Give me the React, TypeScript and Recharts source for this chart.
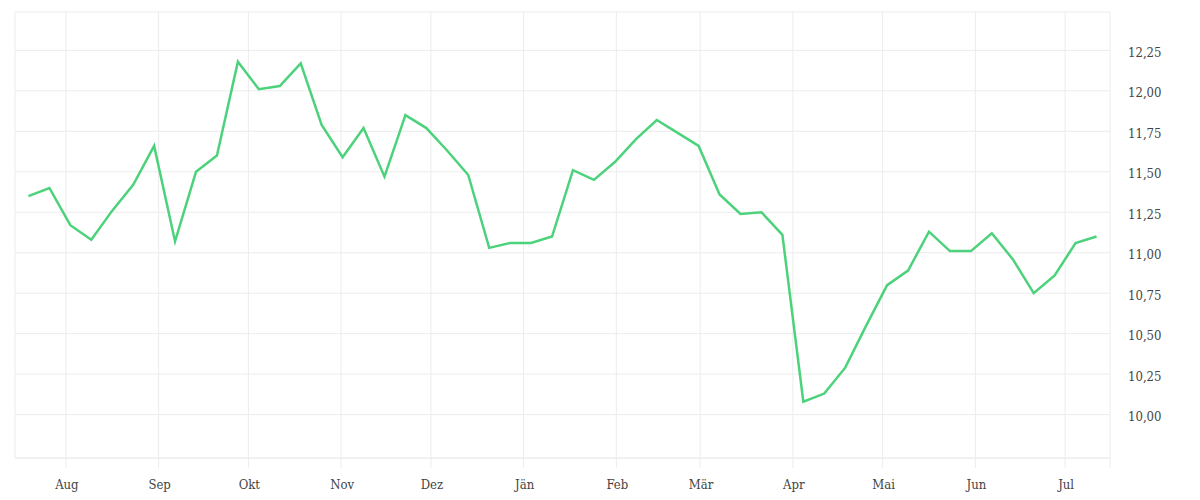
import React from "react";
import { LineChart, Line, XAxis, YAxis, CartesianGrid } from "recharts";

// days relative to 1 August
const weekDays = [
  -12.5, -5.5, 1.5, 8.5, 15.5, 22.5, 29.5, 36.5, 43.5, 50.5, 57.5, 64.5, 71.5,
  78.5, 85.5, 92.5, 99.5, 106.5, 113.5, 120.5, 127.5, 134.5, 141.5, 148.5,
  155.5, 162.5, 169.5, 176.5, 183.5, 190.5, 197.5, 204.5, 211.5, 218.5, 225.5,
  232.5, 239.5, 246.5, 253.5, 260.5, 267.5, 274.5, 281.5, 288.5, 295.5, 302.5,
  309.5, 316.5, 323.5, 330.5, 337.5, 344.5,
];

const values = [
  11.35, 11.4, 11.17, 11.08, 11.26, 11.42, 11.66, 11.07, 11.5, 11.6, 12.18,
  12.01, 12.03, 12.17, 11.79, 11.59, 11.77, 11.47, 11.85, 11.77, 11.63, 11.48,
  11.03, 11.06, 11.06, 11.1, 11.51, 11.45, 11.56, 11.7, 11.82, 11.74, 11.66,
  11.36, 11.24, 11.25, 11.11, 10.08, 10.13, 10.29, 10.55, 10.8, 10.89, 11.13,
  11.01, 11.01, 11.12, 10.96, 10.75, 10.86, 11.06, 11.1,
];

const monthTicks = [0, 31, 61, 92, 122, 153, 184, 212, 243, 273, 304, 334, 349];
const monthLabels = [
  "Aug", "Sep", "Okt", "Nov", "Dez", "Jän", "Feb", "Mär", "Apr", "Mai", "Jun", "Jul", "",
];

const yTicks = [10, 10.25, 10.5, 10.75, 11, 11.25, 11.5, 11.75, 12, 12.25];

const data = weekDays.map((d, i) => ({ day: d, value: values[i] }));

const FONT = '"DejaVu Serif Condensed", "DejaVu Serif", serif';
const GRID = "#ececec";
const TEXT = "#444";

export default function App() {
  return (
    <div style={{ position: "absolute", left: 0, top: 0, width: 1200, height: 500 }}>
      <LineChart
        width={1200}
        height={500}
        data={data}
        margin={{ top: 12, left: 15, right: 30, bottom: 12 }}
      >
        <CartesianGrid stroke={GRID} strokeWidth={1} />
        <XAxis
          dataKey="day"
          type="number"
          domain={[-17, 349]}
          ticks={monthTicks}
          allowDataOverflow
          tickFormatter={(v: number) => monthLabels[monthTicks.indexOf(v)] ?? ""}
          height={30}
          tickSize={10}
          tickMargin={12}
          axisLine={{ stroke: GRID }}
          tickLine={{ stroke: GRID }}
          tick={{ fill: TEXT, fontSize: 13, fontFamily: FONT, dx: 1 }}
          interval={0}
        />
        <YAxis
          orientation="right"
          type="number"
          domain={[9.732, 12.487]}
          ticks={yTicks}
          allowDataOverflow
          width={60}
          axisLine={false}
          tickLine={false}
          tickSize={0}
          tickMargin={18}
          tickFormatter={(v: number) => v.toFixed(2).replace(".", ",")}
          tick={{ fill: TEXT, fontSize: 13, fontFamily: FONT, textAnchor: "start", dy: 2 }}
          interval={0}
        />
        <Line
          type="linear"
          dataKey="value"
          stroke="#4cd27b"
          strokeWidth={2.5}
          dot={false}
          isAnimationActive={false}
        />
      </LineChart>
    </div>
  );
}
